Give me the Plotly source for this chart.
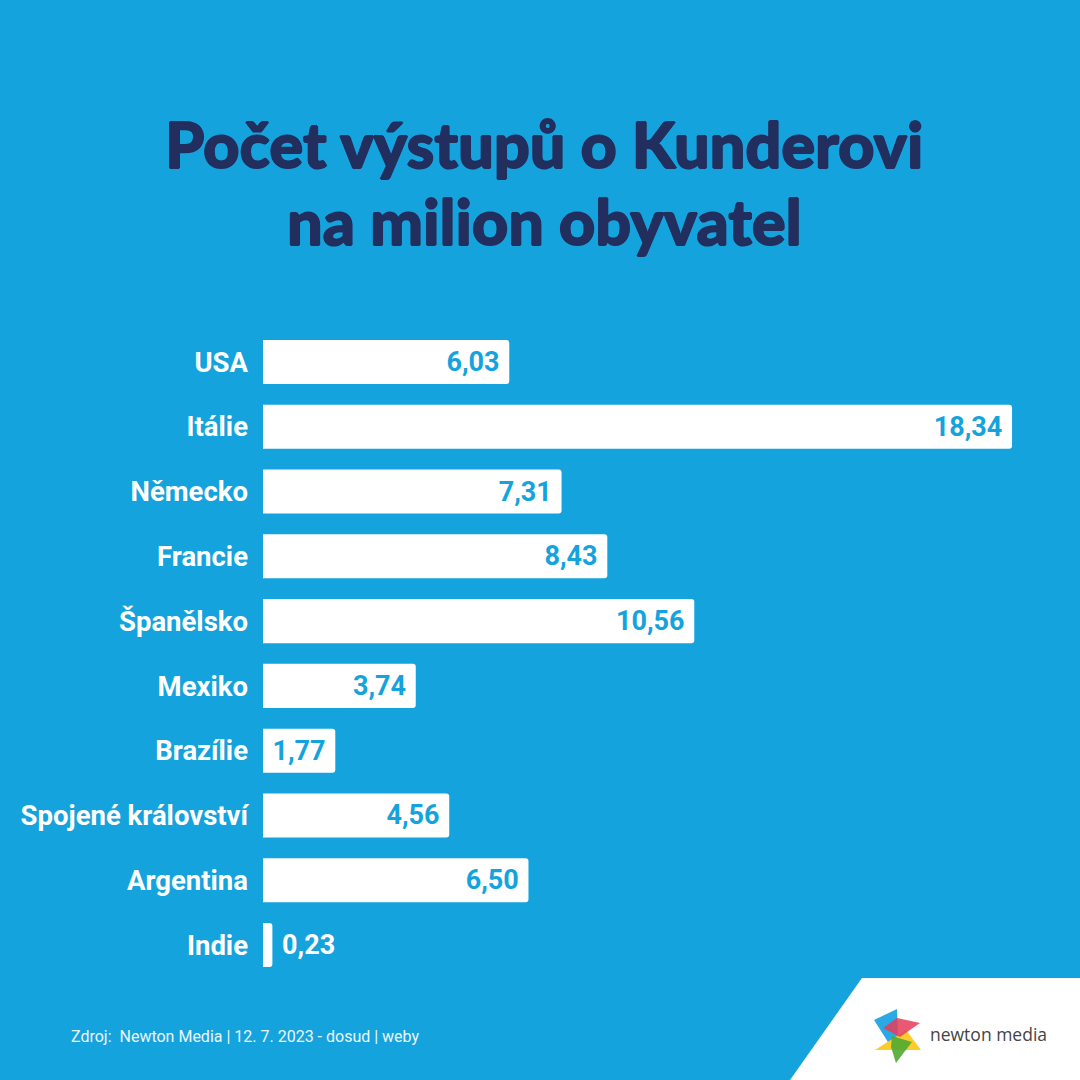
import plotly.graph_objects as go

# --- data ---
countries = ["USA", "Itálie", "Německo", "Francie", "Španělsko", "Mexiko",
             "Brazílie", "Spojené království", "Argentina", "Indie"]
values = [6.03, 18.34, 7.31, 8.43, 10.56, 3.74, 1.77, 4.56, 6.50, 0.23]
value_labels = ["6,03", "18,34", "7,31", "8,43", "10,56", "3,74",
                "1,77", "4,56", "6,50", "0,23"]

TITLE_1 = "Počet výstupů o Kunderovi"
TITLE_2 = "na milion obyvatel"
SOURCE = "Zdroj:  Newton Media | 12. 7. 2023 - dosud | weby"

BG = "#15a3dd"
NAVY = "#222f5e"
NBSP = "\u00a0"

# tiny bars get their label outside
positions = ["inside" if v > 1 else "outside" for v in values]
templates = ["%{text}" + NBSP if p == "inside" else NBSP + "%{text}" for p in positions]

fig = go.Figure()

fig.add_trace(go.Bar(
    x=values,
    y=countries,
    orientation="h",
    text=value_labels,
    texttemplate=templates,
    textposition=positions,
    insidetextanchor="end",
    constraintext="none",
    insidetextfont=dict(family="Roboto", size=27, color=BG, weight="bold"),
    outsidetextfont=dict(family="Roboto", size=27, color="white", weight="bold"),
    marker=dict(color="white", cornerradius=3, line_width=0),
    cliponaxis=False,
    hoverinfo="skip",
))

fig.update_layout(
    width=1080, height=1080,
    margin=dict(l=0, r=0, t=0, b=0),
    paper_bgcolor=BG,
    plot_bgcolor=BG,
    showlegend=False,
    bargap=0.32,
    xaxis=dict(domain=[263 / 1080, 1039 / 1080], range=[0, 19],
               visible=False, fixedrange=True),
    yaxis=dict(domain=[1 - 977.4 / 1080, 1 - 329.6 / 1080],
               autorange="reversed", showgrid=False, zeroline=False,
               showline=False, ticks="", ticklabelstandoff=14, fixedrange=True,
               tickfont=dict(family="Roboto", size=27.5, color="white", weight="bold")),
)

# title, two lines (slight shadow to thicken the strokes)
thick = f"0.8px 0 0 {NAVY}, -0.8px 0 0 {NAVY}, 0 0.8px 0 {NAVY}, 0 -0.8px 0 {NAVY}"
for txt, ypix in [(TITLE_1, 144), (TITLE_2, 221)]:
    fig.add_annotation(text=txt, x=544 / 1080, y=1 - ypix / 1080,
                       xref="paper", yref="paper", showarrow=False,
                       xanchor="center", yanchor="middle",
                       font=dict(family="Lato", size=63, color=NAVY, weight=900,
                                 shadow=thick))

# source note
fig.add_annotation(text=SOURCE, x=69 / 1080, y=1 - 1036 / 1080,
                   xref="paper", yref="paper", showarrow=False,
                   xanchor="left", yanchor="middle",
                   font=dict(family="Roboto", size=16, color="#eaf6fc"))

# white corner with the logo
fig.add_shape(type="path", xref="paper", yref="paper",
              path="M 0.7315 0 L 0.7981 0.0944 L 1 0.0944 L 1 0 Z",
              fillcolor="white", line_width=0, layer="above")


def px_path(pts):
    return "M " + " L ".join(f"{x / 1080:.4f} {1 - y / 1080:.4f}" for x, y in pts) + " Z"


logo_parts = [
    ([(874, 1020), (897, 1009), (898, 1037), (888, 1042)], "rgba(20,160,225,0.9)"),
    ([(875, 1050), (921, 1050), (906, 1030)], "rgba(250,200,20,0.9)"),
    ([(883, 1028), (897, 1018), (920, 1023), (900, 1037)], "rgba(230,60,90,0.85)"),
    ([(892, 1036), (912, 1042), (896, 1063), (891, 1047)], "rgba(80,170,50,0.9)"),
]
for pts, col in logo_parts:
    fig.add_shape(type="path", xref="paper", yref="paper", path=px_path(pts),
                  fillcolor=col, line_width=0, layer="above")

fig.add_annotation(text="newton media", x=928 / 1080, y=1 - 1034 / 1080,
                   xref="paper", yref="paper", showarrow=False,
                   xanchor="left", yanchor="middle",
                   font=dict(family="Open Sans", size=17.5, color="#444444"))

fig.write_html("out.html", config={"displayModeBar": False},
               post_script="document.body.style.margin='0';")
